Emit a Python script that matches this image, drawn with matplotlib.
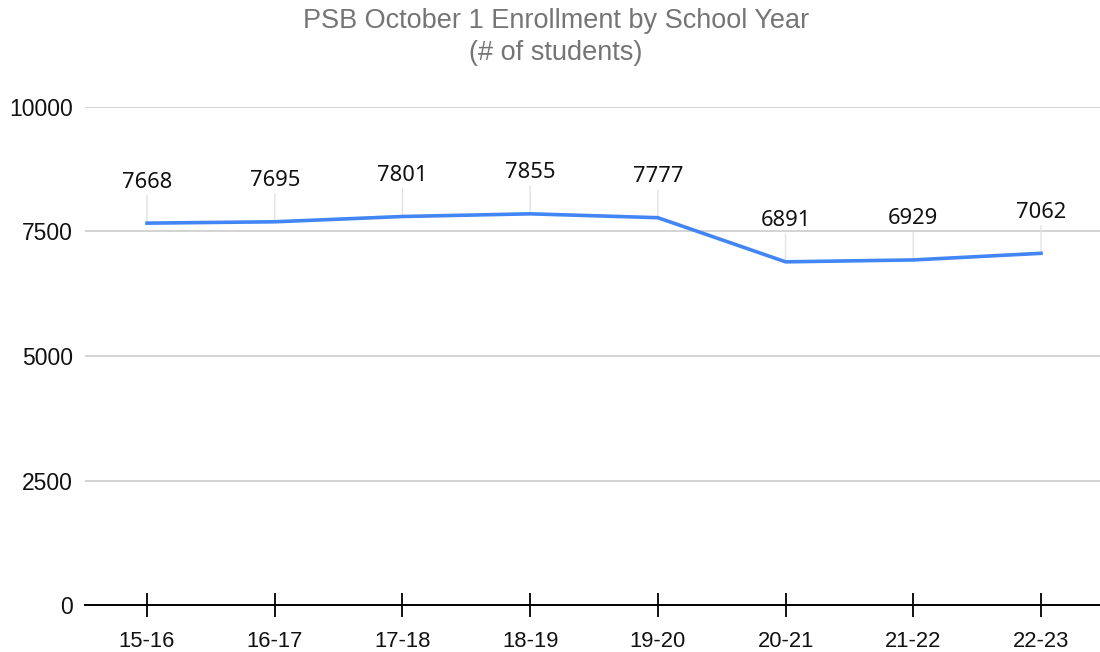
import matplotlib
matplotlib.use("Agg")
import matplotlib.pyplot as plt

# ---- data ----
school_years = ["15-16", "16-17", "17-18", "18-19", "19-20", "20-21", "21-22", "22-23"]
enrollment = [7668, 7695, 7801, 7855, 7777, 6891, 6929, 7062]
y_ticks = [0, 2500, 5000, 7500, 10000]
title_line1 = "PSB October 1 Enrollment by School Year"
title_line2 = "(# of students)"

W, H = 1100, 652
fig = plt.figure(figsize=(W / 100, H / 100), dpi=100)
ax = fig.add_axes([85 / W, 47 / H, (W - 85) / W, 498 / H])

x = list(range(len(school_years)))
ax.plot(x, enrollment, color="#4285F4", lw=2.6, zorder=3, solid_joinstyle="round")

for xi, v in zip(x, enrollment):
    ax.annotate(str(v), xy=(xi, v), xytext=(0, 41), textcoords="offset pixels",
                ha="center", va="center", fontsize=15.8, family="Noto Sans",
                color="#111111", zorder=2,
                arrowprops=dict(arrowstyle="-", color="#e2e2e2", lw=1.0,
                                shrinkA=0, shrinkB=0))

ax.set_xlim(-0.4855, 7.462)
ax.set_ylim(0, 10000)
ax.set_yticks(y_ticks)
ax.set_yticklabels([str(t) for t in y_ticks], fontsize=16.5, family="Liberation Sans", color="#111111")
ax.set_xticks(x)
ax.set_xticklabels(school_years, fontsize=15.8, family="Liberation Sans", color="#111111")

ax.grid(axis="y", color="#cccccc", lw=1.2, zorder=0)
ax.set_axisbelow(True)
for s in ["top", "right", "left"]:
    ax.spines[s].set_visible(False)
ax.spines["bottom"].set_color("black")
ax.spines["bottom"].set_linewidth(1.4)
ax.spines["bottom"].set_zorder(4)
ax.tick_params(axis="y", length=0, pad=8.5)
ax.tick_params(axis="x", direction="inout", length=17, width=1.3, color="black", pad=10)

fig.text(556 / W, 1 - 21 / H, title_line1, ha="center", va="center",
         fontsize=19.5, family="Liberation Sans", color="#757575")
fig.text(556 / W, 1 - 53 / H, title_line2, ha="center", va="center",
         fontsize=19.5, family="Liberation Sans", color="#757575")

fig.savefig("out.png", dpi=100, facecolor="white")
